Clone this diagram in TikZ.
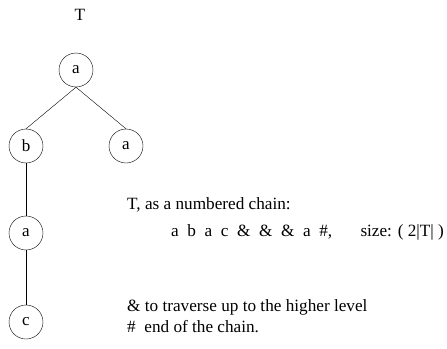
\documentclass[tikz,border=0pt]{standalone}
\usepackage{fontspec}
\setmainfont{Liberation Serif}
\tikzset{
  vtx/.style={draw, circle, minimum size=34pt, inner sep=0pt, font=\fontsize{17}{20}\selectfont},
  txt/.style={anchor=base west, inner sep=0pt, font=\fontsize{17.2}{20}\selectfont}
}

\begin{document}
\begin{tikzpicture}[x=1pt, y=-1pt]
			%%%%% START %%%%%
			\useasboundingbox (0, 0) rectangle (447, 348);
			
			\node[txt, anchor=base] (tname) at (80, 20) {T};
			
			\node[vtx] (root) at (76, 70) {a};
			\node[vtx] (lb) at (26, 146) {b};
			\node[vtx] (ra) at (126, 146) {a};
			\node[vtx] (la) at (26, 233) {a};
			\node[vtx] (lc) at (26, 322) {c};
			
			\draw (root.south) -- (lb.north);
			\draw (root.south) -- (ra.north);
			\draw (lb.south) -- (la.north);
			\draw (la.south) -- (lc.north);
			
			\node[txt] (chainhead) at (127, 209) {T, as a numbered chain:};
			\node[txt] (chain) at (171, 236) {a\ \ b\ \ a\ \ c\ \ \&\ \ \&\ \ \&\ \ a\ \ \#,};
			\node[txt, anchor=base east] (size) at (444, 236) {size: ( 2|T| )};
			
			\node[txt] (amp) at (127, 311) {\& to traverse up to the higher level};
			\node[txt] (hash) at (127, 332) {\#\ \ end of the chain.};
			%%%%% END %%%%%
\end{tikzpicture}
\end{document}
